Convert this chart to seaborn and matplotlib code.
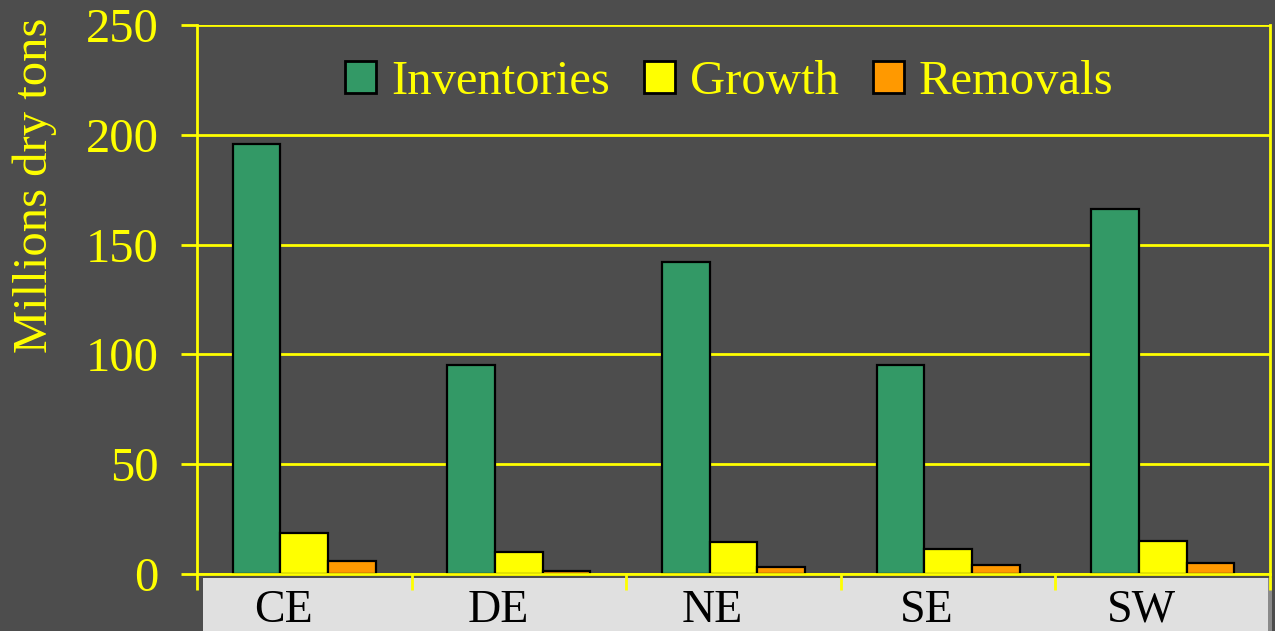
import matplotlib
matplotlib.use("Agg")
import matplotlib.pyplot as plt
import matplotlib.transforms as mtransforms
import seaborn as sns
import pandas as pd
from matplotlib.patches import Rectangle

regions = ["CE", "DE", "NE", "SE", "SW"]
inventories = [196, 95, 142, 95, 166]
growth = [18.5, 10, 14.5, 11.5, 15]
removals = [6, 1.5, 3.2, 4.2, 5]
series_names = ["Inventories", "Growth", "Removals"]
colors = ["#339966", "#FFFF00", "#FF9900"]
yticks = [0, 50, 100, 150, 200, 250]

rows = []
for name, vals in zip(series_names, [inventories, growth, removals]):
    for r, v in zip(regions, vals):
        rows.append({"Region": r, "Series": name, "Value": v})
df = pd.DataFrame(rows)

sns.set_theme(style="dark")
plt.rcParams["font.family"] = ["Liberation Serif", "DejaVu Serif"]
bg = "#4d4d4d"
yellow = "#FFFF00"

fig = plt.figure(figsize=(12.75, 6.31), dpi=100, facecolor=bg)
ax = fig.add_axes([197/1275, 1-574/631, (1270-197)/1275, (574-25)/631])
ax.set_facecolor(bg)

# label box below axis
fig.patches.append(Rectangle((1268/1275, 0), 4/1275, (631-578)/631, transform=fig.transFigure,
                             facecolor="#8a8a8a", edgecolor="none", zorder=-2))
fig.patches.append(Rectangle((203/1275, 0), (1268-203)/1275, (631-578)/631, transform=fig.transFigure,
                             facecolor="#e0e0e0", edgecolor="none", zorder=-1))

sns.barplot(data=df, x="Region", y="Value", hue="Series", palette=colors, ax=ax,
            width=0.667, edgecolor="black", linewidth=1.6, saturation=1, errorbar=None,
            zorder=3)

ax.set_ylim(0, 250)
ax.set_xlim(-0.5, 4.5)
ax.set_yticks(yticks)
ax.set_yticklabels([str(t) for t in yticks], color=yellow, fontsize=35)
ax.tick_params(axis="y", length=11.5, width=2, color=yellow, pad=16, direction="out", left=True)
ax.yaxis.grid(True, color=yellow, linewidth=2, zorder=0)
ax.xaxis.grid(False)
ax.set_axisbelow(True)

ax.set_xticks(range(len(regions)))
ax.set_xticklabels(regions, color="black", fontsize=33)
ax.tick_params(axis="x", which="major", length=0, pad=11)
offset = mtransforms.ScaledTranslation(-21/100, 0, fig.dpi_scale_trans)
for lbl in ax.get_xticklabels():
    lbl.set_transform(lbl.get_transform() + offset)
ax.set_xticks([i - 0.5 for i in range(len(regions) + 1)], minor=True)
ax.tick_params(axis="x", which="minor", length=11.5, width=2, color=yellow, direction="out", bottom=True)

for s in ["left", "bottom", "right"]:
    ax.spines[s].set_visible(True)
    ax.spines[s].set_color(yellow)
    ax.spines[s].set_linewidth(2)
ax.spines["top"].set_visible(False)
ax.spines["bottom"].set_zorder(5)

ax.set_xlabel("")
ax.set_ylabel("")
fig.text(35/1275, 1-185/631, "Millions dry tons", rotation=90, color=yellow,
         fontsize=35, ha="center", va="center")

leg = ax.legend(loc="center", bbox_to_anchor=((729-197)/(1270-197), (574-82)/(574-25)),
                ncol=3, frameon=False, fontsize=35, handlelength=0.65, handleheight=0.65,
                handletextpad=0.3, columnspacing=0.7, labelcolor=yellow)
for h in leg.legend_handles:
    h.set_edgecolor("black")
    h.set_linewidth(2)

fig.savefig("out.png", dpi=100, facecolor=bg)
